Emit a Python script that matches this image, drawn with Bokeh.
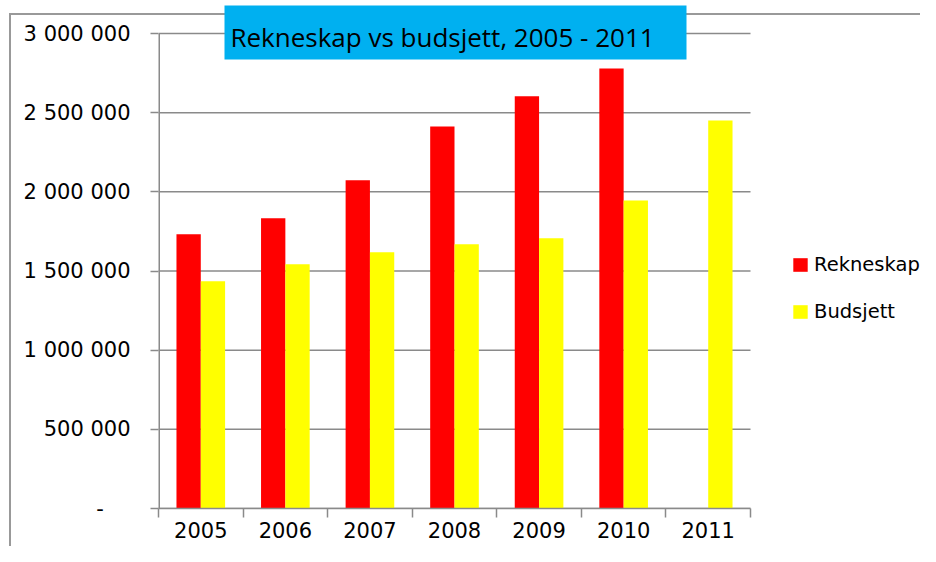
from bokeh.plotting import figure
from bokeh.models import (Range1d, FixedTicker, CustomJSTickFormatter, Legend, LegendItem,
                          Label, BoxAnnotation, ColumnDataSource)
from bokeh.transform import dodge
from bokeh.embed import file_html
from bokeh.resources import INLINE

years = ["2005", "2006", "2007", "2008", "2009", "2010", "2011"]
rekneskap = [1732000, 1833000, 2073000, 2413000, 2603000, 2779000, float("nan")]
budsjett = [1435000, 1543000, 1618000, 1669000, 1707000, 1946000, 2451000]
y_ticks = [0, 500000, 1000000, 1500000, 2000000, 2500000, 3000000]
series_names = ["Rekneskap", "Budsjett"]
title_text = "Rekneskap vs budsjett, 2005 - 2011"

n = len(years)
centers = [i + 0.5 for i in range(n)]
bounds = list(range(n + 1))
src = ColumnDataSource(dict(x=centers, rek=rekneskap, bud=budsjett, year=years))

GRAY = "#8a8a8a"
Y_MAX = 3000000
Y_TOP = Y_MAX * (1 + 33.0 / 475.0)      # room above the top gridline for the title box
X_END = n * (920.0 - 158.0) / 592.0      # frame runs on to the right edge, for the legend

border_css = ("linear-gradient(#999999,#999999) 9px 13px / 2px 2000px no-repeat, "
              "linear-gradient(#999999,#999999) 9px 13px / 2000px 2px no-repeat")

p = figure(width=920, height=546, x_range=Range1d(0, X_END), y_range=Range1d(0, Y_TOP),
           output_backend="svg", toolbar_location=None,
           min_border_left=158, min_border_right=0, min_border_top=0, min_border_bottom=38,
           styles={"background": border_css})
p.outline_line_color = None
p.background_fill_color = None
p.border_fill_color = None

# horizontal gridlines, only across the plot area
p.segment(x0=[0] * len(y_ticks), x1=[n] * len(y_ticks), y0=y_ticks, y1=y_ticks,
          line_color=GRAY, line_width=1.5)

bw = 0.2875
r1 = p.vbar(x=dodge("x", -bw / 2, range=p.x_range), top="rek", width=bw, source=src,
            fill_color="#FF0000", line_color=None)
r2 = p.vbar(x=dodge("x", bw / 2, range=p.x_range), top="bud", width=bw, source=src,
            fill_color="#FFFF00", line_color=None)

# y axis line only up to the top gridline
p.segment(x0=[0], y0=[0], x1=[0], y1=[Y_MAX], line_color=GRAY, line_width=3)

# x axis: labels at centers, tick marks at category boundaries (minor ticks)
xa = p.xaxis[0]
xa.bounds = (0, n)
xa.ticker = FixedTicker(ticks=centers, minor_ticks=bounds)
xa.formatter = CustomJSTickFormatter(args=dict(labels=years), code="return labels[Math.floor(tick)];")
xa.major_tick_out = 0
xa.major_tick_in = 0
xa.minor_tick_out = 9
xa.minor_tick_in = 0
xa.minor_tick_line_color = GRAY
xa.minor_tick_line_width = 1.5
xa.axis_line_color = GRAY
xa.axis_line_width = 1.5
xa.major_label_text_font = "DejaVu Sans"
xa.major_label_text_font_size = "21px"
xa.major_label_text_color = "black"
xa.major_label_standoff = 4

ya = p.yaxis[0]
ya.ticker = FixedTicker(ticks=y_ticks, minor_ticks=[])
ya.formatter = CustomJSTickFormatter(code="""
if (tick == 0) return "-\u00a0\u00a0\u00a0\u00a0";
return tick.toFixed(0).replace(/\\B(?=(\\d{3})+(?!\\d))/g, " ");
""")
ya.major_tick_out = 8
ya.major_tick_in = 0
ya.major_tick_line_color = GRAY
ya.major_tick_line_width = 1.5
ya.axis_line_color = None
ya.major_label_text_font = "DejaVu Sans"
ya.major_label_text_font_size = "21px"
ya.major_label_text_color = "black"
ya.major_label_standoff = 20

p.grid.visible = False

# title box
tbox = BoxAnnotation(left=0.7804, right=6.2433, bottom=Y_MAX * (1 - 26.0 / 475.0),
                     top=Y_MAX * (1 + 28.0 / 475.0),
                     fill_color="#00B0F0", fill_alpha=1.0, line_color=None)
p.add_layout(tbox)
tlabel = Label(x=0.85, y=Y_MAX * (1 - 3.7 / 475.0), text=title_text, text_align="left",
               text_baseline="alphabetic", text_font="Open Sans", text_font_size="26px",
               text_color="black")
p.add_layout(tlabel)

legend = Legend(items=[LegendItem(label=series_names[0], renderers=[r1]),
                       LegendItem(label=series_names[1], renderers=[r2])],
                location=(633, 185), orientation="vertical", padding=0, margin=0, spacing=24,
                glyph_height=17, glyph_width=18, label_height=17, label_standoff=5,
                label_text_font="DejaVu Sans", label_text_font_size="19.5px",
                label_text_color="black",
                border_line_color=None, background_fill_alpha=0)
p.add_layout(legend, "center")

open("out.html", "w").write(file_html(p, INLINE))
